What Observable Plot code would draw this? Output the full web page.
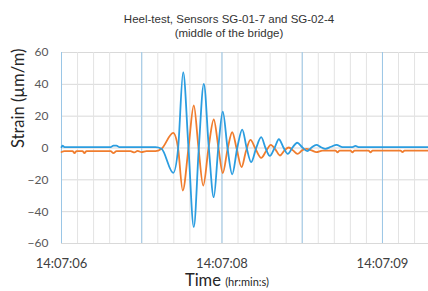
<!DOCTYPE html>
<html>
<head>
<meta charset="utf-8">
<script src="https://cdn.jsdelivr.net/npm/d3@7"></script>
<script src="https://cdn.jsdelivr.net/npm/@observablehq/plot@0.6"></script>
<style>
  body { margin: 0; background: #fff; }
  #title { width: 428px; height: 44px; box-sizing: border-box; padding-top: 12px; padding-left: 30px;
           text-align: center; font-family: "Liberation Sans", Arial, sans-serif; font-size: 11.5px;
           line-height: 14px; color: #333; }
  #chart svg { display: block; }
</style>
</head>
<body>
<div id="title">Heel-test, Sensors SG-01-7 and SG-02-4<br>(middle of the bridge)</div>
<div id="chart"></div>
<script>
// Time in seconds from the left edge of the axis
const blueTime = [0.000,0.010,0.030,0.489,0.518,0.548,0.578,0.937,0.997,1.114,1.163,1.213,1.266,1.319,1.369,1.419,1.469,1.518,1.563,1.608,1.655,1.702,1.752,1.802,1.846,1.891,1.941,1.991,2.034,2.077,2.124,2.167,2.213,2.256,2.303,2.350,2.400,2.450,2.493,2.542,2.588,2.632,2.687,2.742,2.802,2.901,2.931,2.961,3.659];
const blueStrain = [0.5,1.5,0.5,0.5,1.5,1.5,0.5,0.5,-0.5,-15.6,0,47.6,0,-49.7,0,40.3,0,-30.9,0,22.9,0,-16.6,0,11.6,0,-8.9,0,6.8,0,-5,0,5.5,0.3,-3.7,0.3,3.3,0.5,-2,0.3,2,0.5,-0.5,0.8,2,0.5,0.5,1.3,0.5,0.5];

const orangeTime = [0.000,0.030,0.110,0.130,0.150,0.209,0.229,0.249,0.489,0.518,0.548,0.688,0.728,0.758,0.798,0.847,0.937,0.997,1.114,1.162,1.209,1.266,1.319,1.366,1.413,1.466,1.518,1.565,1.608,1.655,1.702,1.748,1.795,1.839,1.884,1.934,1.991,2.039,2.087,2.134,2.178,2.223,2.266,2.308,2.353,2.398,2.443,2.493,2.542,2.602,2.732,2.752,2.772,2.881,2.901,2.921,3.061,3.081,3.101,3.380,3.400,3.420,3.659];
const orangeStrain = [-2.5,-2,-2,-3.2,-2,-2,-3.2,-2,-2,-3.2,-2,-2,-2.8,-1.8,-2.6,-2,-2,-0.5,9.5,0,-26.7,0,26.7,0,-23.6,0,17.9,0,-15.8,-1,9.9,-1,-12,-2,5.1,-0.5,-6.2,-2,2,-1,-4.7,-1.5,0.3,-1.5,-3.7,-1.5,-0.6,-1.5,-2.6,-1.6,-1.6,-2.8,-1.6,-1.6,-2.8,-1.6,-1.6,-2.8,-1.6,-1.6,-2.6,-1.6,-1.6];

const yTicks = [-60,-40,-20,0,20,40,60];
const majorTicks = [0,0.8,1.6,2.4,3.2];
const minorTicks = d3.range(0, 3.66, 0.16);
const xLabelTicks = [0,1.6,3.2];
const xLabels = ["14:07:06","14:07:08","14:07:09"];

const blue = blueTime.map((t,i) => ({t, v: blueStrain[i]}));
const orange = orangeTime.map((t,i) => ({t, v: orangeStrain[i]}));

const font = "Lato, 'Open Sans', sans-serif";

const chart = Plot.plot({
  width: 428, height: 247,
  marginTop: 8, marginBottom: 48, marginLeft: 61, marginRight: 0,
  style: {fontFamily: font, background: "#fff"},
  x: {domain: [0, 3.659]},
  y: {domain: [-60, 60]},
  marks: [
    Plot.gridY(yTicks, {stroke: "#d9d9d9", strokeOpacity: 1, strokeWidth: 1}),
    Plot.gridX(minorTicks, {stroke: "#e3e3e3", strokeOpacity: 1, strokeWidth: 1}),
    Plot.gridX(majorTicks, {stroke: "#9ac6e6", strokeOpacity: 1, strokeWidth: 1}),
    Plot.axisY(yTicks, {tickSize: 0, tickPadding: 13, fontSize: 12, fill: "#595959", label: null}),
    Plot.axisX(xLabelTicks, {tickSize: 0, tickPadding: 15, fontSize: 13, fill: "#404040", label: null,
      tickFormat: (d) => xLabels[xLabelTicks.indexOf(d)]}),
    Plot.line(orange, {x: "t", y: "v", stroke: "#f07d2e", strokeWidth: 1.8, curve: "monotone-x"}),
    Plot.line(blue, {x: "t", y: "v", stroke: "#2b9de0", strokeWidth: 1.8, curve: "monotone-x"}),
    Plot.text(["Strain (µm/m)"], {frameAnchor: "left", rotate: -90, dx: -43, fontSize: 16.5, fill: "#262626", fontFamily: font})
  ]
});
document.getElementById("chart").appendChild(chart);

// x-axis title with mixed sizes
const svg = d3.select(chart);
const xt = svg.append("text")
  .attr("x", 227).attr("y", 242)
  .attr("text-anchor", "middle")
  .attr("fill", "#262626")
  .style("font-family", font);
xt.append("tspan").attr("font-size", 16.5).text("Time ");
xt.append("tspan").attr("font-size", 11).text("(hr:min:s)");
</script>
</body>
</html>
